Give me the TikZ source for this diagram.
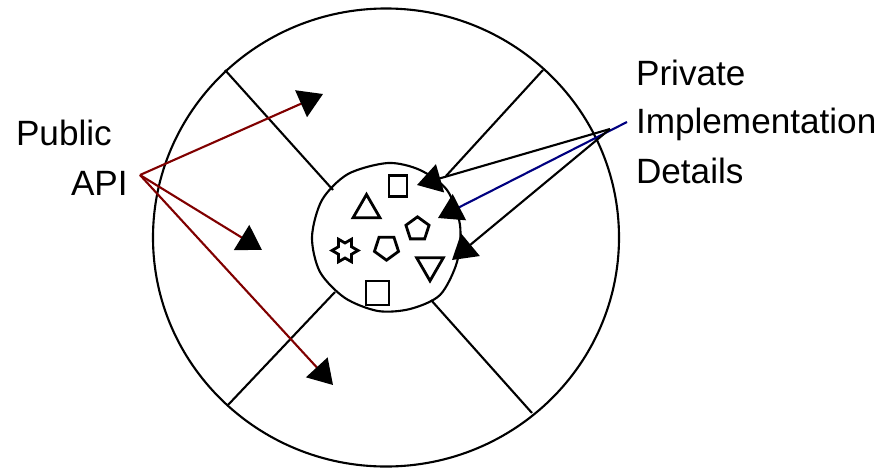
\documentclass[tikz,border=0pt]{standalone}
\usepackage{fontspec}
\setmainfont{Liberation Sans}
\usetikzlibrary{arrows.meta,shapes.geometric}
\definecolor{apired}{RGB}{128,0,0}
\definecolor{implblue}{RGB}{0,0,128}

\begin{document}
\begin{tikzpicture}[x=0.03cm,y=-0.03cm,line width=1.8pt,
  font=\fontsize{30}{34}\selectfont,
  lbl/.style={anchor=base west,inner sep=0pt},
  tipto/.style={-{Triangle[length=0.72cm,width=0.87cm,color=black]}},
  glyph/.style={draw,line width=2.4pt,inner sep=0pt,outer sep=0pt}]
  \useasboundingbox (0,0) rectangle (883,468);
  % outer ring and its spokes
  \draw (386,237.5) ellipse [x radius=6.99cm, y radius=6.87cm];
  \draw (225,70) -- (333,190);
  \draw (543,70) -- (446,176);
  \draw (228,405) -- (335,292);
  \draw (532,413) -- (431,300);
  % inner core
  \draw plot[smooth cycle] coordinates {(388,163) (420,170) (447,190)
    (460,225) (457,262) (440,295) (410,309) (378,311) (345,298) (320,272)
    (312,237) (322,200) (348,174)};
  \node[glyph,rectangle,minimum width=0.54cm,minimum height=0.63cm] (bar) at (398,186) {};
  \node[glyph,regular polygon,regular polygon sides=3,minimum size=0.93cm] (triup) at (366.5,210) {};
  \node[glyph,regular polygon,regular polygon sides=5,minimum size=0.73cm] (pentup) at (417.5,229) {};
  \node[glyph,star,star points=6,star point ratio=1.73,shape border rotate=30,
        minimum size=0.78cm] (hexa) at (345,250.5) {};
  \node[glyph,regular polygon,regular polygon sides=5,shape border rotate=180,
        minimum size=0.76cm] (pentdn) at (386.5,247.5) {};
  \node[glyph,regular polygon,regular polygon sides=3,shape border rotate=180,
        minimum size=0.92cm] (tridn) at (430,265.5) {};
  \node[glyph,rectangle,minimum width=0.69cm,minimum height=0.72cm] (box) at (377.5,293) {};
  % labels
  \node[lbl] (pub) at (15,145) {Public};
  \node[lbl] (api) at (70,195) {API};
  \node[lbl] (priv) at (635,85) {Private};
  \node[lbl] (impl) at (635,133) {Implementation};
  \node[lbl] (det) at (635,183) {Details};
  % arrows
  \coordinate (pubsrc) at (140,175);
  \coordinate (pubtipa) at (323,94);
  \coordinate (pubtipb) at (262,250);
  \coordinate (pubtipc) at (333,385);
  \coordinate (privsrc) at (610,129);
  \coordinate (implsrc) at (627,122);
  \coordinate (privtipa) at (417,185);
  \coordinate (privtipb) at (438,218);
  \coordinate (privtipc) at (452,260);
  \draw[tipto,apired] (pubsrc) -- (pubtipa);
  \draw[tipto,apired] (pubsrc) -- (pubtipb);
  \draw[tipto,apired] (pubsrc) -- (pubtipc);
  \draw[tipto] (privsrc) -- (privtipa);
  \draw[tipto,implblue] (implsrc) -- (privtipb);
  \draw[tipto] (privsrc) -- (privtipc);
\end{tikzpicture}
\end{document}
